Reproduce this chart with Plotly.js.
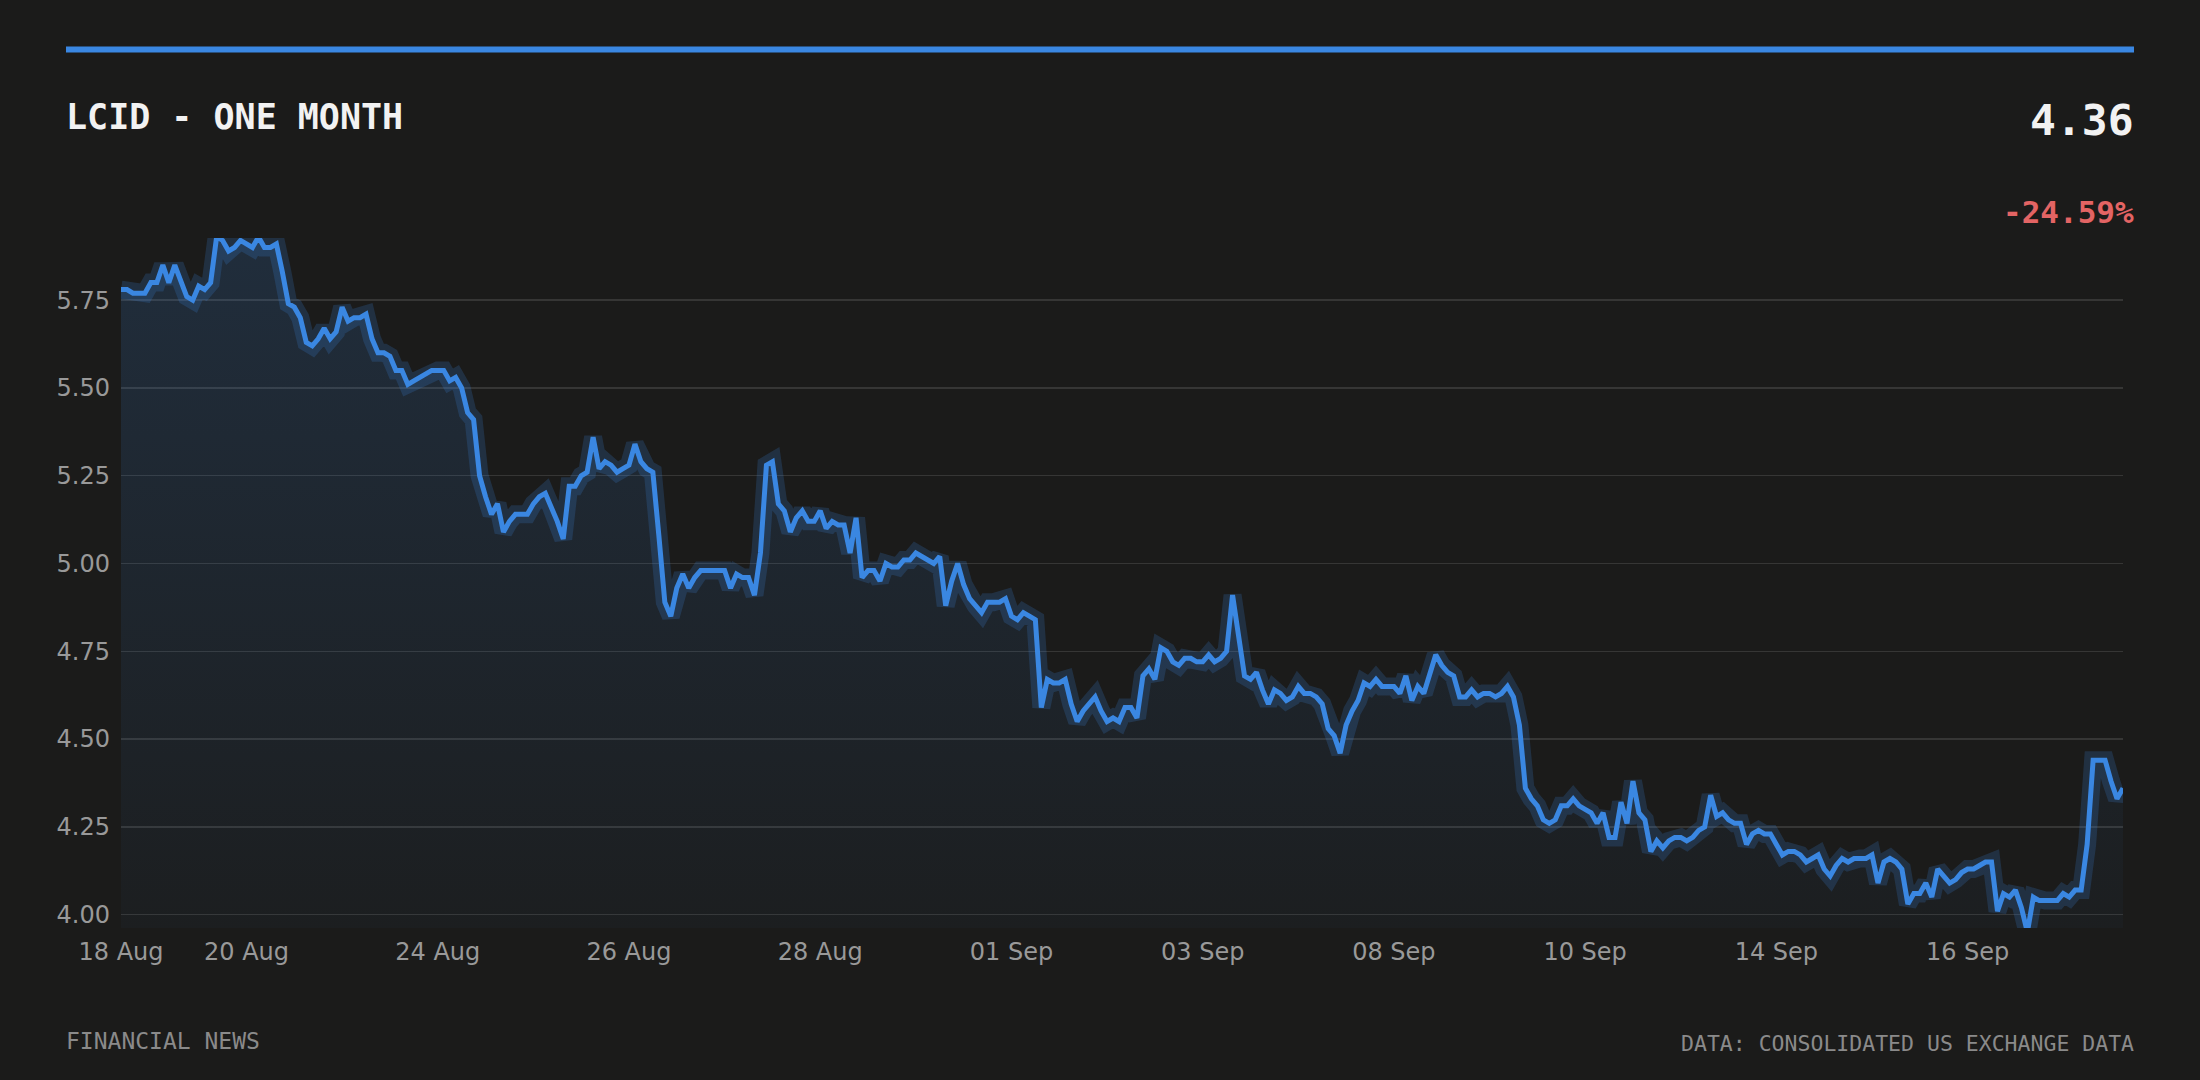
<!DOCTYPE html>
<html>
<head>
<meta charset="utf-8">
<script src="https://cdn.plot.ly/plotly-3.0.1.min.js"></script>
<style>
  html, body { margin: 0; padding: 0; background: #1b1b1a; }
  #chart { width: 2200px; height: 1080px; }
</style>
</head>
<body>
<div id="chart"></div>
<script>
// closing prices, one per session slot
const closes = [
	5.78, 5.78, 5.77, 5.77, 5.77, 5.80, 5.80, 5.85, 5.80, 5.85,
	5.80, 5.76, 5.75, 5.79, 5.78, 5.80, 5.93, 5.92, 5.89, 5.90,
	5.92, 5.91, 5.90, 5.93, 5.90, 5.90, 5.91, 5.83, 5.74, 5.73,
	5.70, 5.63, 5.62, 5.64, 5.67, 5.64, 5.66, 5.73, 5.69, 5.70,
	5.70, 5.71, 5.64, 5.60, 5.60, 5.59, 5.55, 5.55, 5.51, 5.52,
	5.53, 5.54, 5.55, 5.55, 5.55, 5.52, 5.53, 5.50, 5.43, 5.41,
	5.25, 5.19, 5.14, 5.17, 5.09, 5.12, 5.14, 5.14, 5.14, 5.17,
	5.19, 5.20, 5.16, 5.12, 5.07, 5.22, 5.22, 5.25, 5.26, 5.36,
	5.27, 5.29, 5.28, 5.26, 5.27, 5.28, 5.34, 5.29, 5.27, 5.26,
	5.08, 4.89, 4.85, 4.93, 4.97, 4.93, 4.96, 4.98, 4.98, 4.98,
	4.98, 4.98, 4.93, 4.97, 4.96, 4.96, 4.91, 5.03, 5.28, 5.29,
	5.17, 5.15, 5.09, 5.13, 5.15, 5.12, 5.12, 5.15, 5.10, 5.12,
	5.11, 5.11, 5.03, 5.13, 4.96, 4.98, 4.98, 4.95, 5.00, 4.99,
	4.99, 5.01, 5.01, 5.03, 5.02, 5.01, 5.00, 5.02, 4.88, 4.95,
	5.00, 4.94, 4.90, 4.88, 4.86, 4.89, 4.89, 4.89, 4.90, 4.85,
	4.84, 4.86, 4.85, 4.84, 4.59, 4.67, 4.66, 4.66, 4.67, 4.60,
	4.55, 4.58, 4.60, 4.62, 4.58, 4.55, 4.56, 4.55, 4.59, 4.59,
	4.56, 4.68, 4.70, 4.67, 4.76, 4.75, 4.72, 4.71, 4.73, 4.73,
	4.72, 4.72, 4.74, 4.72, 4.73, 4.75, 4.91, 4.79, 4.68, 4.67,
	4.69, 4.64, 4.60, 4.64, 4.63, 4.61, 4.62, 4.65, 4.63, 4.63,
	4.62, 4.60, 4.53, 4.51, 4.46, 4.54, 4.58, 4.61, 4.66, 4.65,
	4.67, 4.65, 4.65, 4.65, 4.63, 4.68, 4.61, 4.65, 4.63, 4.68,
	4.74, 4.71, 4.69, 4.68, 4.62, 4.62, 4.64, 4.62, 4.63, 4.63,
	4.62, 4.63, 4.65, 4.62, 4.54, 4.36, 4.33, 4.31, 4.27, 4.26,
	4.27, 4.31, 4.31, 4.33, 4.31, 4.30, 4.29, 4.26, 4.29, 4.22,
	4.22, 4.32, 4.26, 4.38, 4.29, 4.27, 4.18, 4.21, 4.19, 4.21,
	4.22, 4.22, 4.21, 4.22, 4.24, 4.25, 4.34, 4.28, 4.29, 4.27,
	4.26, 4.26, 4.20, 4.23, 4.24, 4.23, 4.23, 4.20, 4.17, 4.18,
	4.18, 4.17, 4.15, 4.16, 4.17, 4.13, 4.11, 4.14, 4.16, 4.15,
	4.16, 4.16, 4.16, 4.17, 4.09, 4.15, 4.16, 4.15, 4.13, 4.03,
	4.06, 4.06, 4.09, 4.05, 4.13, 4.11, 4.09, 4.10, 4.12, 4.13,
	4.13, 4.14, 4.15, 4.15, 4.01, 4.06, 4.05, 4.07, 4.02, 3.95,
	4.05, 4.04, 4.04, 4.04, 4.04, 4.06, 4.05, 4.07, 4.07, 4.20,
	4.44, 4.44, 4.44, 4.38, 4.33, 4.36,
];
const sessions = closes.map((_, i) => i);

const tickSlots = [0, 21, 53, 85, 117, 149, 181, 213, 245, 277, 309];
const tickLabels = ['18 Aug', '20 Aug', '24 Aug', '26 Aug', '28 Aug', '01 Sep', '03 Sep', '08 Sep', '10 Sep', '14 Sep', '16 Sep'];
const priceTicks = [4.0, 4.25, 4.5, 4.75, 5.0, 5.25, 5.5, 5.75];

const ticker = 'LCID';
const lastPrice = closes[closes.length - 1];
const changePct = -24.59;

const blue = '#3a87e2';
const yLow = 3.962;
const yHigh = 5.927;

const traceFill = {
	x: sessions,
	y: closes,
	type: 'scatter',
	mode: 'lines',
	line: { width: 0, color: 'rgba(0,0,0,0)' },
	fill: 'tozeroy',
	fillgradient: {
		type: 'vertical',
		start: yLow,
		stop: yHigh,
		colorscale: [
			[0, 'rgba(58,135,226,0.03)'],
			[1, 'rgba(58,135,226,0.17)'],
		],
	},
	hoverinfo: 'skip',
};

// soft halo under the price line
const traceGlow = {
	x: sessions,
	y: closes,
	type: 'scatter',
	mode: 'lines',
	line: { width: 18, color: 'rgba(58,135,226,0.2)' },
	hoverinfo: 'skip',
};

const traceLine = {
	x: sessions,
	y: closes,
	type: 'scatter',
	mode: 'lines',
	line: { width: 5, color: blue },
};

const plotL = 121, plotR = 2123, plotT = 238, plotB = 928;
const px = (v) => (v - plotL) / (plotR - plotL);
const py = (v) => (plotB - v) / (plotB - plotT);

const mono = 'DejaVu Sans Mono';

const layout = {
	width: 2200,
	height: 1080,
	margin: { l: plotL, r: 2200 - plotR, t: plotT, b: 1080 - plotB },
	paper_bgcolor: '#1b1b1a',
	plot_bgcolor: '#1b1b1a',
	showlegend: false,
	font: { family: 'DejaVu Sans', color: '#999999', size: 24 },
	xaxis: {
		range: [0, closes.length - 1],
		tickmode: 'array',
		tickvals: tickSlots,
		ticktext: tickLabels,
		showgrid: false,
		zeroline: false,
		showline: false,
		ticks: '',
		ticklabelstandoff: 7,
		tickfont: { family: 'DejaVu Sans', size: 24, color: '#999999' },
	},
	yaxis: {
		range: [yLow, yHigh],
		tickmode: 'array',
		tickvals: priceTicks,
		ticktext: priceTicks.map((v) => v.toFixed(2)),
		showgrid: true,
		gridcolor: 'rgba(255,255,255,0.12)',
		gridwidth: 1.5,
		zeroline: false,
		showline: false,
		ticks: '',
		ticklabelstandoff: 10,
		tickfont: { family: 'DejaVu Sans', size: 24, color: '#999999' },
	},
	shapes: [
		{
			type: 'line',
			xref: 'paper',
			yref: 'paper',
			x0: px(66),
			x1: px(2134),
			y0: py(49.5),
			y1: py(49.5),
			line: { color: blue, width: 6 },
		},
	],
	annotations: [
		{
			text: `${ticker} - ONE MONTH`,
			xref: 'paper', yref: 'paper',
			x: px(64), y: py(117),
			xanchor: 'left', yanchor: 'middle',
			showarrow: false,
			font: { family: mono, size: 35, color: '#f2f2f2', weight: 700 },
		},
		{
			text: lastPrice.toFixed(2),
			xref: 'paper', yref: 'paper',
			x: px(2136), y: py(120),
			xanchor: 'right', yanchor: 'middle',
			showarrow: false,
			font: { family: mono, size: 43, color: '#f2f2f2', weight: 700 },
		},
		{
			text: `${changePct.toFixed(2)}%`,
			xref: 'paper', yref: 'paper',
			x: px(2136), y: py(212),
			xanchor: 'right', yanchor: 'middle',
			showarrow: false,
			font: { family: mono, size: 31, color: '#e36464', weight: 700 },
		},
		{
			text: 'FINANCIAL NEWS',
			xref: 'paper', yref: 'paper',
			x: px(64), y: py(1041),
			xanchor: 'left', yanchor: 'middle',
			showarrow: false,
			font: { family: mono, size: 23, color: '#8a8a8a' },
		},
		{
			text: 'DATA: CONSOLIDATED US EXCHANGE DATA',
			xref: 'paper', yref: 'paper',
			x: px(2136), y: py(1043),
			xanchor: 'right', yanchor: 'middle',
			showarrow: false,
			font: { family: mono, size: 21.5, color: '#8a8a8a' },
		},
	],
};

const config = { displayModeBar: false, staticPlot: true };
Plotly.newPlot('chart', [traceFill, traceGlow, traceLine], layout, config);
</script>
</body>
</html>
